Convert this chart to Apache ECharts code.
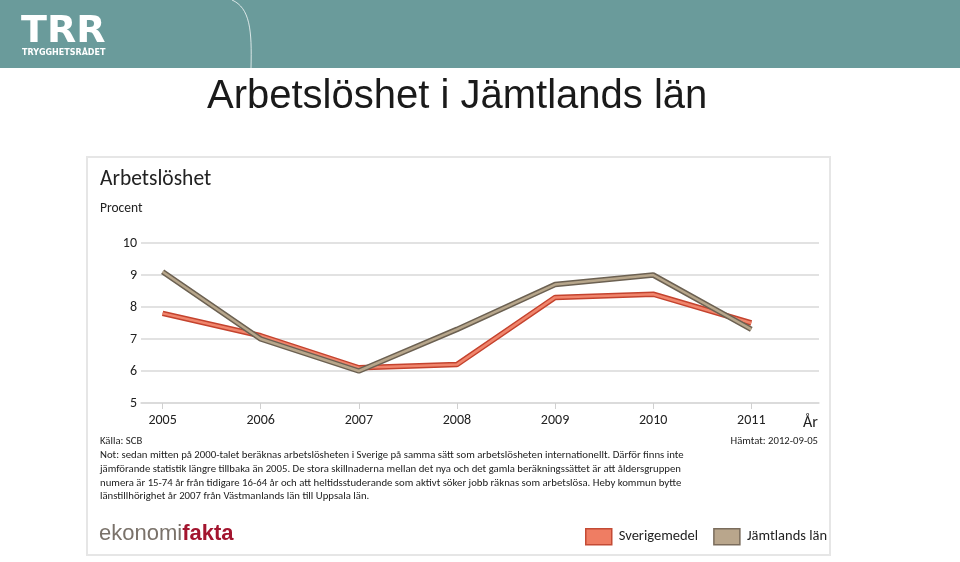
<!DOCTYPE html>
<html>
<head>
<meta charset="utf-8">
<script src="https://cdn.jsdelivr.net/npm/echarts@6/dist/echarts.min.js"></script>
<style>html,body{margin:0;padding:0;background:#fff}#c{width:960px;height:562px}</style>
</head>
<body>
<div id="c"></div>
<script>
const years = [2005, 2006, 2007, 2008, 2009, 2010, 2011];
const sverige = [7.8, 7.1, 6.1, 6.2, 8.3, 8.4, 7.5];
const jamtland = [9.1, 7.0, 6.0, 7.3, 8.7, 9.0, 7.3];
const yTicks = [5, 6, 7, 8, 9, 10];
const noteLines = [
  'Not: sedan mitten på 2000-talet beräknas arbetslösheten i Sverige på samma sätt som arbetslösheten internationellt. Därför finns inte',
  'jämförande statistik längre tillbaka än 2005. De stora skillnaderna mellan det nya och det gamla beräkningssättet är att åldersgruppen',
  'numera är 15-74 år från tidigare 16-64 år och att heltidsstuderande som aktivt söker jobb räknas som arbetslösa. Heby kommun bytte',
  'länstillhörighet år 2007 från Västmanlands län till Uppsala län.'
];

const F = 'Carlito, "Liberation Sans Narrow", Lato, sans-serif';
const pair = (a) => years.map((y, i) => [y, a[i]]);

const chart = echarts.init(document.getElementById('c'), null, {renderer: 'canvas'});

const graphics = [
  {type: 'rect', shape: {x: 0, y: 0, width: 960, height: 68}, style: {fill: '#6a9b9b'}, silent: true},
  {type: 'bezierCurve', shape: {x1: 232, y1: 0, cpx1: 250, cpy1: 8, cpx2: 252, cpy2: 30, x2: 251, y2: 68}, style: {stroke: 'rgba(255,255,255,0.75)', lineWidth: 1, fill: null}},
  {type: 'text', left: 21, top: 13, style: {text: 'TRR', fill: '#fff', font: 'bold 38px "DejaVu Sans", sans-serif'}},
  {type: 'text', left: 22, top: 49, style: {text: 'TRYGGHETSRÅDET', fill: '#fff', font: 'bold 8px "DejaVu Sans", sans-serif'}},
  {type: 'text', left: 207, top: 77, style: {text: 'Arbetslöshet i Jämtlands län', fill: '#1a1a1a', font: '40px "Liberation Sans", Arial, sans-serif'}},
  {type: 'rect', shape: {x: 87, y: 157, width: 743, height: 398}, style: {fill: null, stroke: '#e6e6e6', lineWidth: 2}, silent: true},
  {type: 'text', left: 100, top: 169, style: {text: 'Arbetslöshet', fill: '#222', font: '21.5px ' + F}},
  {type: 'text', left: 100, top: 202, style: {text: 'Procent', fill: '#222', font: '13.5px ' + F}},
  {type: 'text', left: 803, top: 415, style: {text: 'År', fill: '#222', font: '16px ' + F}},
  {type: 'text', left: 100, top: 436, style: {text: 'Källa: SCB', fill: '#222', font: '10.7px ' + F}},
  {type: 'text', right: 142, top: 436, style: {text: 'Hämtat: 2012-09-05', fill: '#222', font: '10.7px ' + F, align: 'right'}},
  {type: 'text', left: 99, top: 523, style: {text: '{a|ekonomi}{b|fakta}', rich: {
    a: {fill: '#7a726a', font: '22px "Liberation Sans", Arial, sans-serif'},
    b: {fill: '#a3152f', font: 'bold 22px "Liberation Sans", Arial, sans-serif'}
  }}}
];
noteLines.forEach((t, i) => {
  graphics.push({type: 'text', left: 100, top: 450 + i * 13.7, style: {text: t, fill: '#222', font: '10.75px ' + F}});
});

chart.setOption({
  animation: false,
  textStyle: {fontFamily: F},
  grid: {left: 141, right: 141, top: 243, bottom: 159, containLabel: false},
  xAxis: {
    type: 'value', min: 2004.78, max: 2011.69,
    axisLine: {show: true, lineStyle: {color: '#d9d9d9', width: 1.5}},
    axisTick: {show: true, customValues: years, length: 6, lineStyle: {color: '#d0d0d0'}},
    axisLabel: {customValues: years, color: '#222', fontSize: 14, margin: 10, fontFamily: F, formatter: (v) => String(v)},
    splitLine: {show: false}
  },
  yAxis: {
    type: 'value', min: 5, max: 10, interval: 1,
    axisLine: {show: false}, axisTick: {show: false},
    axisLabel: {color: '#222', fontSize: 14, margin: 4, fontFamily: F},
    splitLine: {lineStyle: {color: '#d9d9d9', width: 1.5}}
  },
  legend: {
    left: 580, top: 523, itemWidth: 26, itemHeight: 16, itemGap: 15,
    textStyle: {color: '#222', fontSize: 14.5, fontFamily: F, padding: [0, 0, 0, 2]},
    data: [
      {name: 'Sverigemedel', icon: 'rect', itemStyle: {color: '#ef7d63', borderColor: '#c44b35', borderWidth: 1.5}},
      {name: 'Jämtlands län', icon: 'rect', itemStyle: {color: '#b9a68c', borderColor: '#7a6c5c', borderWidth: 1.5}}
    ]
  },
  graphic: graphics,
  series: [
    {name: 'Sverigemedel_kant', type: 'line', data: pair(sverige), showSymbol: false, lineStyle: {color: '#c4432e', width: 5.5}, z: 2},
    {name: 'Sverigemedel', type: 'line', data: pair(sverige), showSymbol: false, lineStyle: {color: '#f0856c', width: 2.5}, itemStyle: {color: '#ef7d63'}, z: 3},
    {name: 'Jämtlands län_kant', type: 'line', data: pair(jamtland), showSymbol: false, lineStyle: {color: '#6c6152', width: 5.5}, z: 4},
    {name: 'Jämtlands län', type: 'line', data: pair(jamtland), showSymbol: false, lineStyle: {color: '#b7a68b', width: 2.5}, itemStyle: {color: '#b9a68c'}, z: 5}
  ]
});
</script>
</body>
</html>
